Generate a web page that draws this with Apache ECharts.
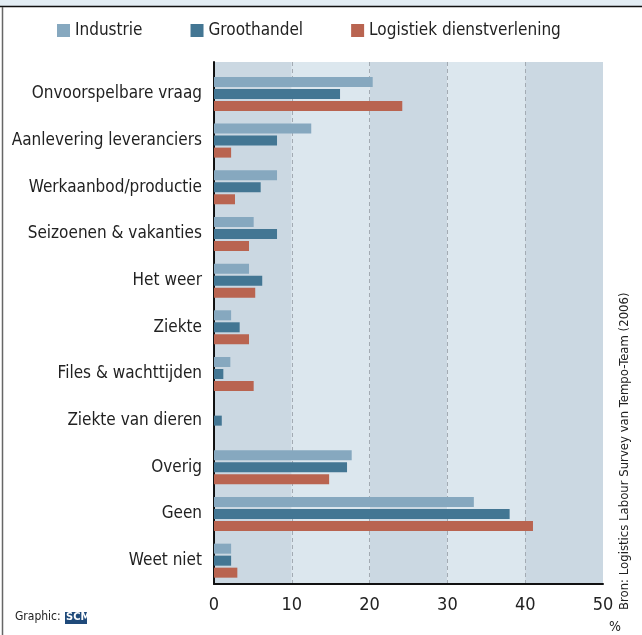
<!DOCTYPE html>
<html>
<head>
<meta charset="utf-8">
<script src="https://cdn.jsdelivr.net/npm/echarts@6/dist/echarts.min.js"></script>
<style>
  html, body { margin: 0; padding: 0; background: #fff; }
  #chart { width: 642px; height: 635px; }
</style>
</head>
<body>
<div id="chart"></div>
<script>
var categories = [
  "Onvoorspelbare vraag", "Aanlevering leveranciers", "Werkaanbod/productie",
  "Seizoenen & vakanties", "Het weer", "Ziekte", "Files & wachttijden",
  "Ziekte van dieren", "Overig", "Geen", "Weet niet"
];
var industrie = [20.4, 12.5, 8.1, 5.1, 4.5, 2.2, 2.1, 0, 17.7, 33.4, 2.2];
var groothandel = [16.2, 8.1, 6.0, 8.1, 6.2, 3.3, 1.2, 1.0, 17.1, 38.0, 2.2];
var logistiek = [24.2, 2.2, 2.7, 4.5, 5.3, 4.5, 5.1, 0, 14.8, 41.0, 3.0];
var seriesNames = ["Industrie", "Groothandel", "Logistiek dienstverlening"];
var colors = ["#86a8bf", "#437693", "#b96450"];

var font = '"Liberation Sans Narrow", "DejaVu Sans Condensed", "Roboto", sans-serif';

var chart = echarts.init(document.getElementById("chart"));

function barSeries(name, data, color) {
  return {
    name: name,
    type: "bar",
    xAxisIndex: 1,
    yAxisIndex: 1,
    data: data,
    barWidth: 10,
    barGap: "20%",
    itemStyle: { color: color },
    z: 3
  };
}

chart.setOption({
  animation: false,
  textStyle: { fontFamily: font },
  legend: {
    data: seriesNames,
    left: 57,
    top: 22,
    padding: 0,
    itemWidth: 13,
    itemHeight: 13,
    itemGap: 48,
    icon: "rect",
    textStyle: { fontSize: 17, color: "#222", fontFamily: font }
  },
  grid: [
    { left: 214, right: 39, top: 62, bottom: 51 },
    { left: 214, right: 39, top: 70.6, bottom: 51 }
  ],
  xAxis: [
    {
      gridIndex: 0,
      type: "value",
      min: 0,
      max: 50,
      interval: 10,
      axisLine: { show: true, lineStyle: { color: "#111", width: 2 } },
      axisTick: { show: false },
      axisLabel: { fontSize: 18, color: "#222", margin: 12, fontFamily: font },
      splitLine: {
        show: true,
        showMinLine: false,
        showMaxLine: false,
        lineStyle: { color: "#a3abb3", type: [4, 3], width: 1 }
      },
      splitArea: { show: true, areaStyle: { color: ["#cbd8e2", "#dce7ee"] } }
    },
    {
      gridIndex: 1,
      type: "value",
      min: 0,
      max: 50,
      show: false
    }
  ],
  yAxis: [
    {
      gridIndex: 0,
      type: "value",
      axisLine: { show: true, lineStyle: { color: "#111", width: 2 } },
      axisTick: { show: false },
      axisLabel: { show: false },
      splitLine: { show: false }
    },
    {
      gridIndex: 1,
      type: "category",
      data: categories,
      inverse: true,
      axisLine: { show: false },
      axisTick: { show: false },
      axisLabel: { fontSize: 17, color: "#222", margin: 12, fontFamily: font },
      splitLine: { show: false }
    }
  ],
  series: [
    barSeries(seriesNames[0], industrie, colors[0]),
    barSeries(seriesNames[1], groothandel, colors[1]),
    barSeries(seriesNames[2], logistiek, colors[2])
  ],
  graphic: [
    { type: "rect", shape: { x: 0, y: 0, width: 642, height: 6 }, style: { fill: "#e3edf4" } },
    { type: "line", shape: { x1: 0, y1: 6.5, x2: 642, y2: 6.5 }, style: { stroke: "#111", lineWidth: 1.5 } },
    { type: "line", shape: { x1: 2.5, y1: 7, x2: 2.5, y2: 635 }, style: { stroke: "#666", lineWidth: 1.5 } },
    { type: "text", left: 609, top: 620, style: { text: "%", fontSize: 14, fill: "#222", fontFamily: font } },
    { type: "text", left: 15, top: 611, style: { text: "Graphic:", fontSize: 12, fill: "#222", fontFamily: font } },
    { type: "rect", shape: { x: 65, y: 612, width: 22, height: 12 }, style: { fill: "#1f4a7a" } },
    { type: "text", left: 66, top: 612, style: { text: "SCM", fontSize: 11, fontWeight: "bold", fill: "#fff", fontFamily: font } },
    {
      type: "text",
      x: 618,
      y: 610,
      rotation: Math.PI / 2,
      style: { text: "Bron: Logistics Labour Survey van Tempo-Team (2006)", fontSize: 13, fill: "#222", fontFamily: font }
    }
  ]
});
</script>
</body>
</html>
